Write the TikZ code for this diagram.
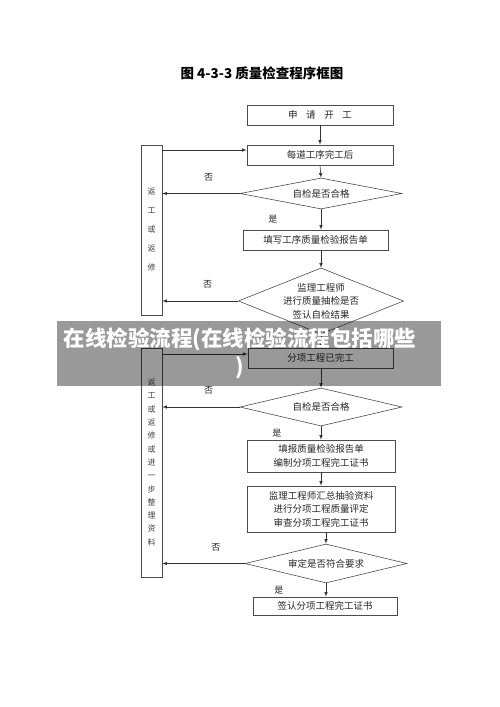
\documentclass[tikz,border=0pt]{standalone}
\usepackage{fontspec}
\setmainfont{Noto Sans CJK SC}
\usepackage{tikz}
\usetikzlibrary{shapes.geometric, arrows}

\begin{document}
\begin{tikzpicture} [x = 1pt, y = -1pt, >=latex, line width = .6pt,
  stepbox/.style = {draw = black!70, rectangle, inner sep = 0pt, align = center, font = \fontsize{9.5}{13.5}\selectfont, text = black!85},
  check/.style = {draw = black!70, diamond, inner sep = 0pt, align = center, font = \fontsize{9.5}{13.5}\selectfont, text = black!85},
  backbox/.style = {draw = black!70, rectangle, inner sep = 0pt, minimum width = 21pt, align = center, text = black!75},
  answer/.style = {font = \fontsize{9}{11}\selectfont, text = black!85},
  flow/.style = {->, draw = black!80}]
\useasboundingbox (0,0) rectangle (500,707);
\node[font = \fontsize{13.5}{16}\selectfont\bfseries](title) at (262,73){图 4-3-3 质量检查程序框图};
\node[stepbox, minimum width = 146pt, minimum height = 20pt](b1) at (320,115){申\hspace{.9em}请\hspace{.9em}开\hspace{.9em}工};
\node[stepbox, minimum width = 146pt, minimum height = 20pt](b2) at (320,155){每道工序完工后};
\node[check, minimum width = 162pt, minimum height = 31pt, aspect = 5.2](d1) at (321,193.5){自检是否合格};
\node[stepbox, minimum width = 145pt, minimum height = 20pt](b3) at (315.5,240){填写工序质量检验报告单};
\node[check, minimum width = 162pt, minimum height = 64pt, aspect = 2.5](d2) at (321,301){监理工程师\\进行质量抽检是否\\签认自检结果};
\node[stepbox, minimum width = 145pt, minimum height = 20pt](b4) at (320.5,358){分项工程已完工};
\node[check, minimum width = 162pt, minimum height = 38pt, aspect = 4.3](d3) at (321,407){自检是否合格};
\node[stepbox, minimum width = 148pt, minimum height = 32pt](b5) at (321,456){填报质量检验报告单\\编制分项工程完工证书};
\node[stepbox, minimum width = 148pt, minimum height = 46pt](b6) at (321,509){监理工程师汇总抽验资料\\进行分项工程质量评定\\审查分项工程完工证书};
\node[check, minimum width = 162pt, minimum height = 39pt, aspect = 4.2](d4) at (326,563.5){审定是否符合要求};
\node[stepbox, minimum width = 144pt, minimum height = 18pt](b7) at (325,606){签认分项工程完工证书};
\node[backbox, minimum height = 170pt, font = \fontsize{8}{19}\selectfont](lb1) at (151.5,230){返\\工\\或\\返\\修};
\node[backbox, minimum height = 229pt, font = \fontsize{8}{13.3}\selectfont](lb2) at (151.5,462.5){返\\工\\或\\返\\修\\或\\进\\一\\步\\整\\理\\资\\料};
\draw [flow] (b1) -- (b2);
\draw [flow] (b2.south |- b2.south) -- (d1.north);
\draw [flow] (d1.south) -- (d1.south |- b3.north) node[answer, pos = .5, left = 40pt]{是};
\draw [flow] (d1.south |- b3.south) -- (d2.north);
\draw [flow] (d2.south) -- (d2.south |- b4.north);
\draw [flow] (d3.north |- b4.south) -- (d3.north);
\draw [flow] (d3.south) -- (d3.south |- b5.north) node[answer, pos = .5, left = 36pt]{是};
\draw [flow] (b5) -- (b6);
\draw [flow] (d4.north |- b6.south) -- (d4.north);
\draw [flow] (d4.south) -- (d4.south |- b7.north) node[answer, pos = .5, left = 39pt]{是};
\draw [flow] (d1.west) -- (d1.west -| lb1.east) node[answer, pos = .4, above = 9pt]{否};
\draw [flow] (d2.west) -- (d2.west -| lb1.east) node[answer, pos = .4, above = 9pt]{否};
\draw [flow] (d3.west) -- (d3.west -| lb2.east) node[answer, pos = .4, above = 9pt]{否};
\draw [flow] (d4.west) -- (d4.west -| lb2.east) node[answer, pos = .35, above = 9pt]{否};
\draw [flow] ([yshift = 5pt]b2.west -| lb1.east) -- ([yshift = 5pt]b2.west);
\draw [flow] ([yshift = 4pt]b4.west -| lb2.east) -- ([yshift = 4pt]b4.west);
\fill [black, opacity = .4] (57,321) rectangle (441,386);
\node[text = white, align = center, font = \fontsize{21.5}{28}\selectfont\bfseries](banner) at (240,353){在线检验流程(在线检验流程包括哪些\\)};
\end{tikzpicture}
\end{document}
